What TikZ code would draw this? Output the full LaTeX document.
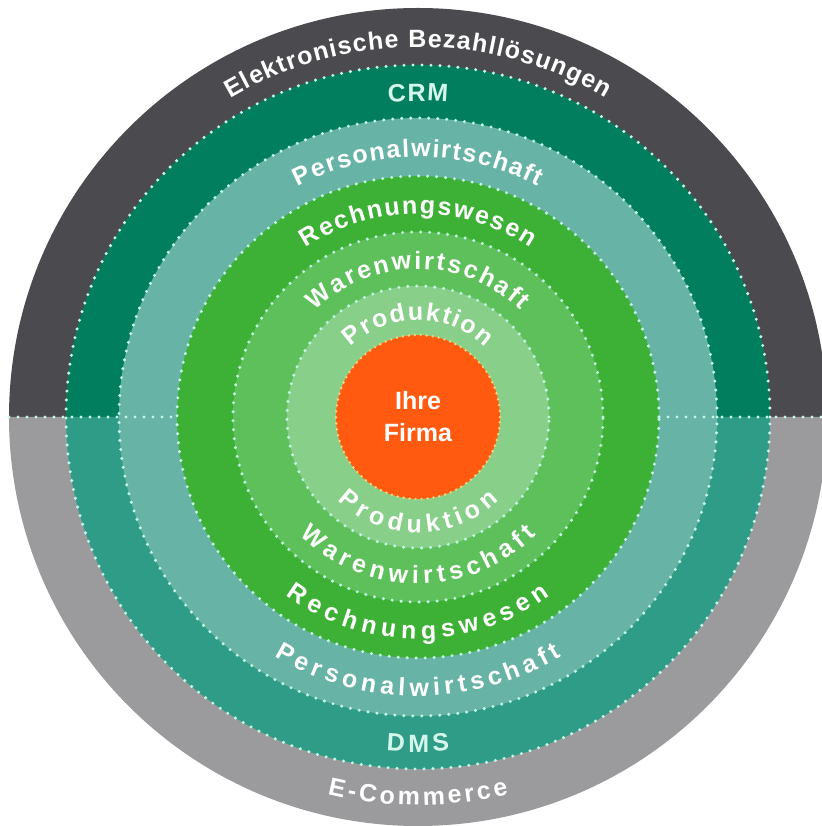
\documentclass[tikz,border=0pt]{standalone}
\usepackage{fontspec}
\setmainfont{Liberation Sans}
\usetikzlibrary{decorations.text}
\definecolor{RngDark}{HTML}{4B4B4F}
\definecolor{RngGray}{HTML}{9B9B9E}
\definecolor{CrmTop}{HTML}{007E5E}
\definecolor{CrmBot}{HTML}{2E9C86}
\definecolor{PersTeal}{HTML}{67B3A6}
\definecolor{RechGreen}{HTML}{3DB135}
\definecolor{WarenGreen}{HTML}{5DC05B}
\definecolor{ProdGreen}{HTML}{88CF89}
\definecolor{FirmaOrange}{HTML}{FF5A10}
\definecolor{DotMint}{HTML}{C4F7E6}
\definecolor{DotOrange}{HTML}{FFD27A}
\definecolor{TxtMint}{HTML}{D5F6EC}
\newcommand{\rngra}{82pt}
\newcommand{\rngrb}{131pt}
\newcommand{\rngrc}{185pt}
\newcommand{\rngrd}{241pt}
\newcommand{\rngre}{299pt}
\newcommand{\rngrf}{352pt}
\newcommand{\rngrg}{409pt}
\newcommand{\rngfont}{\fontsize{25}{30}\selectfont\bfseries}
\tikzset{
  rimdots/.style={draw=DotMint, line width=3.4pt, line cap=round,
    dash pattern=on 0pt off 9pt},
  ringtxt/.style 2 args={decorate, decoration={text along path,
    text align={fit to path}, text={|\rngfont\color{#1}|#2}}}
}
% colour, baseline radius, half angle, text
\newcommand{\toptxt}[4]{\path[ringtxt={#1}{#4}] (90+#3:#2)
  arc[start angle=90+#3, end angle=90-#3, radius=#2];}
\newcommand{\bottxt}[4]{\path[ringtxt={#1}{#4}] (270-#3:#2)
  arc[start angle=270-#3, end angle=270+#3, radius=#2];}

\begin{document}
\begin{tikzpicture}
    \useasboundingbox (-418pt,-409pt) rectangle (403pt,417pt);

    \fill[RngDark] (0:\rngrg) arc[start angle=0, end angle=180, radius=\rngrg] -- cycle;
    \fill[RngGray] (180:\rngrg) arc[start angle=180, end angle=360, radius=\rngrg] -- cycle;
    \fill[CrmTop] (0:\rngrf) arc[start angle=0, end angle=180, radius=\rngrf] -- cycle;
    \fill[CrmBot] (180:\rngrf) arc[start angle=180, end angle=360, radius=\rngrf] -- cycle;
    \fill[PersTeal] (0,0) circle[radius=\rngre];
    \fill[RechGreen] (0,0) circle[radius=\rngrd];
    \fill[WarenGreen] (0,0) circle[radius=\rngrc];
    \fill[ProdGreen] (0,0) circle[radius=\rngrb];
    \fill[FirmaOrange] (0,0) circle[radius=\rngra];

    \draw[rimdots] (-\rngrg,0) -- (-\rngrd,0);
    \draw[rimdots] (\rngrd,0) -- (\rngrg,0);
    \draw[rimdots] (0,0) circle[radius=\rngrf];
    \draw[rimdots] (0,0) circle[radius=\rngre];
    \draw[rimdots] (0,0) circle[radius=\rngrd];
    \draw[rimdots] (0,0) circle[radius=\rngrc];
    \draw[rimdots] (0,0) circle[radius=\rngrb];
    \draw[rimdots, draw=DotOrange, line width=2.8pt, dash pattern=on 0pt off 6pt]
      (0,0) circle[radius=\rngra];

    \toptxt{white}{370pt}{30.5}{Elektronische Bezahllösungen}
    \toptxt{TxtMint}{316pt}{5.4}{CRM}
    \toptxt{white}{260pt}{27.5}{Personalwirtschaft}
    \toptxt{white}{203pt}{33.5}{Rechnungswesen}
    \toptxt{white}{148pt}{44}{Warenwirtschaft}
    \toptxt{white}{97pt}{44}{Produktion}

    \bottxt{white}{116pt}{44}{Produktion}
    \bottxt{white}{167pt}{45}{Warenwirtschaft}
    \bottxt{white}{222pt}{36.5}{Rechnungswesen}
    \bottxt{white}{279pt}{31}{Personalwirtschaft}
    \bottxt{TxtMint}{335pt}{5.4}{DMS}
    \bottxt{white}{388pt}{13.5}{E-Commerce}

    \node[align=center, text=white, font=\fontsize{25}{32}\selectfont\bfseries]
      (firma) at (0,0) {Ihre\\Firma};
\end{tikzpicture}
\end{document}
